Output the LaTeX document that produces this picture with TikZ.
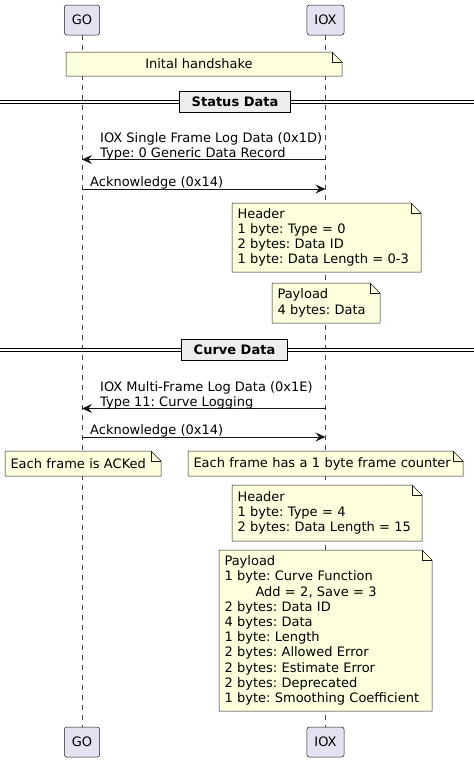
\documentclass[tikz,border=0pt]{standalone}
\usepackage{fontspec}
\setmainfont{DejaVu Sans}
\usepackage{xcolor}
\usetikzlibrary{arrows.meta, backgrounds}
\frenchspacing

\definecolor{partfill}{HTML}{E2E2F0}
\definecolor{notefill}{HTML}{FEFFDD}
\definecolor{linec}{HTML}{181818}
\definecolor{divfill}{HTML}{EEEEEE}

\newcommand{\txtfont}{\fontsize{13}{15.2}\selectfont}
\newcommand{\notefold}[1]{%
  \begin{scope}[on background layer]
    \draw[notebody] (#1.north west) -- ([xshift=-10pt]#1.north east)
      -- ([yshift=-10pt]#1.north east) -- (#1.south east) -- (#1.south west) -- cycle;
    \draw[notebody, fill=none] ([xshift=-10pt]#1.north east) |- ([yshift=-10pt]#1.north east);
  \end{scope}}

\tikzset{
  part/.style={draw=linec, line width=0.5pt, fill=partfill, rounded corners=2.5pt,
    minimum height=30pt, inner xsep=7.5pt, font=\txtfont},
  lifeline/.style={draw=linec!80, line width=0.5pt, dash pattern=on 5pt off 5pt},
  notebody/.style={draw=linec, line width=0.5pt, fill=notefill, line join=miter},
  note/.style 2 args={anchor=north west, inner xsep=5.5pt, inner ysep=0pt, outer sep=0pt,
    text width=#1, minimum height=#2, align=left, font=\txtfont},
  msg/.style={draw=linec, line width=1pt, -{Stealth[length=10pt, width=9pt, inset=3.5pt]}},
  msglabel/.style={anchor=south west, inner sep=0pt, align=left, font=\fontsize{13}{15}\selectfont},
  divider/.style={draw=black, line width=1.5pt, fill=divfill, minimum height=21pt,
    inner xsep=12pt, font=\txtfont\bfseries},
  sepline/.style={draw=black, line width=1pt, double=white, double distance=2pt}
}

\begin{document}
\begin{tikzpicture}[x=1pt, y=-1pt]
\useasboundingbox (0,0) rectangle (474,761);
\coordinate (lft) at (0,0);
\coordinate (rgt) at (474,0);

\node[part] (go) at (82,20) {GO};
\node[part] (iox) at (325.5,20) {IOX};
\node[part] (gob) at (82,742) {GO};
\node[part] (ioxb) at (325.5,742) {IOX};
\begin{scope}[on background layer]
  \draw[lifeline] (go.south) -- (gob.north);
  \draw[lifeline] (iox.south) -- (ioxb.north);
\end{scope}

\node[note={265pt}{24pt}, align=center] (shake) at (66,52) {Inital handshake\kern10pt};
\notefold{shake}

\node[divider] (status) at (235,102) {Status Data};
\draw[sepline] (status.west) -- (status.west -| lft);
\draw[sepline] (status.east) -- (status.east -| rgt);

\coordinate (m1) at (0,159.5);
\draw[msg] (iox |- m1) -- (go |- m1);
\node[msglabel] (m1txt) at ([xshift=18pt, yshift=-1pt]go |- m1) {IOX Single Frame Log Data (0x1D)\\Type: 0 Generic Data Record};

\coordinate (m2) at (0,189);
\draw[msg] (go |- m2) -- (iox |- m2);
\node[msglabel] (m2txt) at ([xshift=8pt, yshift=0pt]go |- m2) {Acknowledge (0x14)};

\node[note={178pt}{69pt}] (hdr1) at (232,203) {Header\\1 byte: Type = 0\\2 bytes: Data ID\\1 byte: Data Length = 0-3};
\notefold{hdr1}
\node[note={97pt}{40pt}] (pay1) at (272,283) {Payload\\4 bytes: Data};
\notefold{pay1}

\node[divider] (curve) at (234.5,350) {Curve Data};
\draw[sepline] (curve.west) -- (curve.west -| lft);
\draw[sepline] (curve.east) -- (curve.east -| rgt);

\coordinate (m3) at (0,408.5);
\draw[msg] (iox |- m3) -- (go |- m3);
\node[msglabel] (m3txt) at ([xshift=18pt, yshift=-1pt]go |- m3) {IOX Multi-Frame Log Data (0x1E)\\Type 11: Curve Logging};

\coordinate (m4) at (0,437);
\draw[msg] (go |- m4) -- (iox |- m4);
\node[msglabel] (m4txt) at ([xshift=8pt, yshift=0pt]go |- m4) {Acknowledge (0x14)};

\node[note={145pt}{25pt}] (acked) at (5,451) {Each frame is ACKed};
\notefold{acked}
\node[note={264pt}{25pt}] (counter) at (188,451) {Each frame has a 1 byte frame counter};
\notefold{counter}

\node[note={179pt}{56pt}] (hdr2) at (232,485) {Header\\1 byte: Type = 4\\2 bytes: Data Length = 15};
\notefold{hdr2}
\node[note={202pt}{161pt}] (pay2) at (219,550) {Payload\\1 byte: Curve Function\\\hspace*{31pt}Add = 2, Save = 3\\2 bytes: Data ID\\4 bytes: Data\\1 byte: Length\\2 bytes: Allowed Error\\2 bytes: Estimate Error\\2 bytes: Deprecated\\1 byte: Smoothing Coefficient};
\notefold{pay2}
\end{tikzpicture}
\end{document}
